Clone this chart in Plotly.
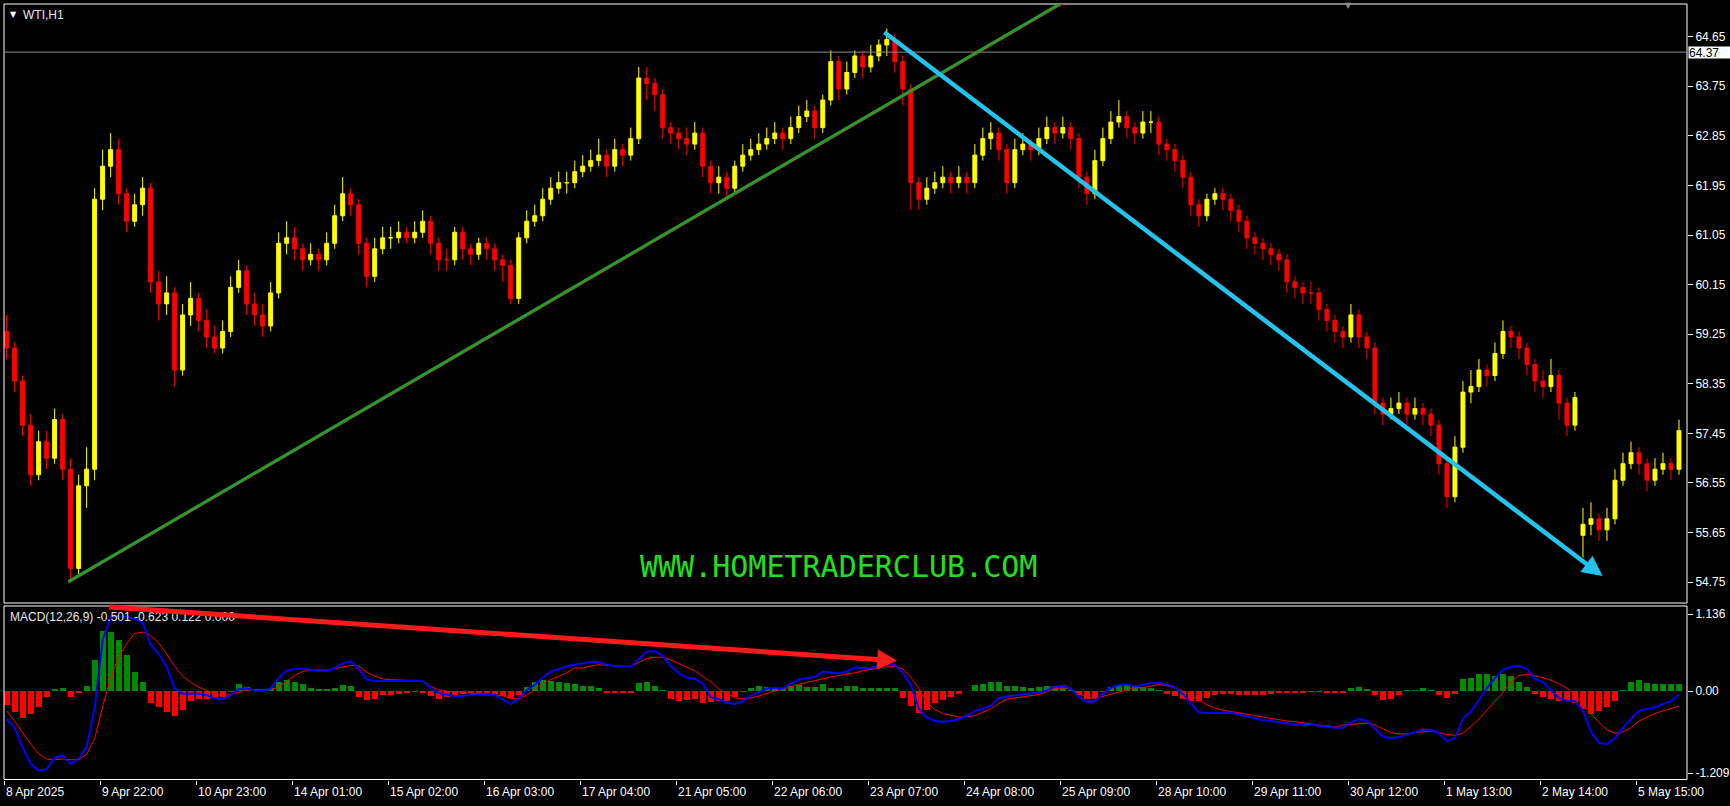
import plotly.graph_objects as go

W, H = 1730, 806

# 2-hour candles (WTI, 8 Apr - 5 May 2025)
opens = [59.3, 59.0, 58.4, 57.6, 56.7, 57.3, 57.0, 57.7, 56.8, 55.0,
         56.5, 56.8, 61.7, 62.3, 62.6, 61.8, 61.3, 61.6, 61.9, 60.2,
         59.8, 60.0, 58.6, 59.6, 59.9, 59.5, 59.2, 59.0, 59.3, 60.1,
         60.4, 59.8, 59.6, 59.4, 60.0, 60.9, 61.0, 60.8, 60.6, 60.7,
         60.6, 60.9, 61.4, 61.8, 61.6, 60.9, 60.3, 60.8, 61.0, 61.0,
         61.1, 61.0, 61.1, 61.3, 60.9, 60.6, 60.6, 61.1, 60.8, 60.7,
         60.9, 60.8, 60.6, 60.5, 59.9, 61.0, 61.3, 61.4, 61.7, 61.9,
         62.0, 62.0, 62.2, 62.3, 62.4, 62.5, 62.3, 62.6, 62.5, 62.8,
         63.9, 63.8, 63.6, 63.0, 62.9, 62.8, 62.7, 62.9, 62.3, 62.0,
         62.1, 61.9, 62.3, 62.5, 62.6, 62.7, 62.8, 62.9, 62.8, 63.0,
         63.2, 63.3, 63.0, 63.5, 64.2, 63.7, 64.0, 64.3, 64.1, 64.3,
         64.5, 64.6, 64.2, 63.7, 62.0, 61.7, 61.9, 62.0, 62.1, 62.0,
         62.1, 62.0, 62.5, 62.8, 62.9, 62.6, 62.0, 62.6, 62.7, 62.6,
         62.8, 63.0, 62.9, 63.0, 62.8, 62.1, 61.8, 62.4, 62.8, 63.1,
         63.2, 63.0, 62.9, 63.1, 63.1, 62.7, 62.6, 62.4, 62.1, 61.6,
         61.4, 61.7, 61.8, 61.7, 61.5, 61.3, 61.0, 60.9, 60.8, 60.7,
         60.6, 60.2, 60.1, 60.0, 60.0, 59.7, 59.5, 59.3, 59.2, 59.6,
         59.2, 59.0, 58.0, 57.8, 57.9, 58.0, 57.8, 57.9, 57.8, 57.6,
         56.9, 56.3, 57.2, 58.2, 58.3, 58.6, 58.5, 58.9, 59.3, 59.2,
         59.0, 58.7, 58.4, 58.3, 58.5, 58.0, 57.6, 55.6, 55.8, 55.9,
         55.7, 55.9, 56.6, 56.9, 57.1, 56.9, 56.6, 56.8, 56.9, 56.8]
highs = [59.6, 59.1, 58.5, 57.8, 57.5, 57.5, 57.9, 57.8, 57.0, 56.7,
         57.2, 61.9, 62.6, 62.9, 62.8, 61.9, 61.8, 62.1, 62.0, 60.4,
         60.3, 60.1, 59.8, 60.2, 60.0, 59.7, 59.4, 59.5, 60.3, 60.6,
         60.5, 60.0, 59.8, 60.2, 61.1, 61.3, 61.2, 60.9, 60.9, 60.8,
         61.1, 61.6, 62.1, 61.9, 61.7, 61.0, 61.0, 61.2, 61.2, 61.3,
         61.2, 61.3, 61.5, 61.4, 61.0, 60.8, 61.2, 61.2, 60.9, 61.0,
         61.0, 60.9, 60.7, 60.6, 61.1, 61.5, 61.6, 61.9, 62.1, 62.2,
         62.2, 62.4, 62.5, 62.6, 62.8, 62.6, 62.8, 62.7, 63.0, 64.1,
         64.1, 63.9, 63.7, 63.1, 63.0, 63.0, 63.1, 63.0, 62.4, 62.3,
         62.2, 62.4, 62.7, 62.8, 62.9, 63.0, 63.1, 63.0, 63.2, 63.4,
         63.5, 63.4, 63.6, 64.4, 64.3, 64.2, 64.4, 64.4, 64.5, 64.6,
         64.8, 64.7, 64.3, 63.8, 62.1, 62.1, 62.2, 62.3, 62.2, 62.3,
         62.2, 62.7, 63.0, 63.1, 63.0, 62.7, 62.8, 62.9, 62.8, 63.0,
         63.2, 63.1, 63.2, 63.1, 62.9, 62.2, 62.6, 63.0, 63.3, 63.5,
         63.3, 63.1, 63.3, 63.3, 63.2, 62.8, 62.7, 62.5, 62.2, 61.7,
         61.8, 61.9, 61.9, 61.8, 61.6, 61.4, 61.1, 61.0, 60.9, 60.8,
         60.7, 60.3, 60.2, 60.2, 60.1, 59.8, 59.6, 59.4, 59.8, 59.7,
         59.3, 59.1, 58.1, 58.1, 58.2, 58.1, 58.1, 58.0, 57.9, 57.7,
         57.0, 57.4, 58.4, 58.6, 58.8, 58.7, 59.1, 59.5, 59.4, 59.3,
         59.1, 58.8, 58.6, 58.8, 58.6, 58.1, 58.2, 56.1, 56.2, 56.0,
         56.1, 56.8, 57.1, 57.3, 57.2, 57.0, 57.0, 57.1, 57.0, 57.7]
lows = [58.8, 58.2, 57.4, 56.5, 56.6, 56.8, 56.9, 56.6, 54.8, 54.9,
        56.1, 56.6, 61.5, 62.1, 61.6, 61.1, 61.2, 61.4, 60.0, 59.5,
        59.6, 58.3, 58.5, 59.4, 59.3, 59.0, 58.9, 58.9, 59.2, 60.0,
        59.6, 59.4, 59.2, 59.3, 59.9, 60.7, 60.6, 60.4, 60.5, 60.4,
        60.5, 60.8, 61.3, 61.4, 60.7, 60.1, 60.2, 60.7, 60.8, 60.9,
        60.9, 60.9, 61.0, 60.7, 60.4, 60.4, 60.5, 60.6, 60.5, 60.6,
        60.6, 60.4, 60.2, 59.8, 59.8, 60.9, 61.2, 61.3, 61.6, 61.8,
        61.8, 61.9, 62.1, 62.2, 62.3, 62.1, 62.2, 62.3, 62.4, 62.7,
        63.5, 63.3, 62.8, 62.7, 62.6, 62.5, 62.6, 62.1, 61.8, 61.8,
        61.7, 61.8, 62.2, 62.4, 62.5, 62.6, 62.7, 62.6, 62.7, 62.9,
        63.1, 62.8, 62.9, 63.4, 63.5, 63.6, 63.9, 63.9, 64.0, 64.2,
        64.3, 64.0, 63.4, 61.5, 61.5, 61.6, 61.8, 61.9, 61.8, 61.9,
        61.8, 61.9, 62.4, 62.6, 62.4, 61.8, 61.9, 62.5, 62.4, 62.5,
        62.7, 62.7, 62.8, 62.6, 61.9, 61.6, 61.7, 62.3, 62.7, 63.0,
        62.8, 62.7, 62.8, 62.9, 62.5, 62.4, 62.2, 61.9, 61.4, 61.2,
        61.3, 61.6, 61.5, 61.3, 61.1, 60.8, 60.7, 60.6, 60.5, 60.4,
        60.0, 59.9, 59.8, 59.8, 59.5, 59.3, 59.1, 59.0, 59.1, 59.0,
        58.8, 57.8, 57.6, 57.7, 57.8, 57.6, 57.7, 57.6, 57.4, 56.7,
        56.1, 56.2, 57.1, 58.0, 58.2, 58.3, 58.4, 58.8, 59.0, 58.8,
        58.5, 58.2, 58.1, 58.2, 57.7, 57.4, 57.5, 55.2, 55.6, 55.5,
        55.5, 55.8, 56.5, 56.8, 56.7, 56.4, 56.5, 56.7, 56.6, 56.7]
closes = [59.0, 58.4, 57.6, 56.7, 57.3, 57.0, 57.7, 56.8, 55.0, 56.5,
          56.8, 61.7, 62.3, 62.6, 61.8, 61.3, 61.6, 61.9, 60.2, 59.8,
          60.0, 58.6, 59.6, 59.9, 59.5, 59.2, 59.0, 59.3, 60.1, 60.4,
          59.8, 59.6, 59.4, 60.0, 60.9, 61.0, 60.8, 60.6, 60.7, 60.6,
          60.9, 61.4, 61.8, 61.6, 60.9, 60.3, 60.8, 61.0, 61.0, 61.1,
          61.0, 61.1, 61.3, 60.9, 60.6, 60.6, 61.1, 60.8, 60.7, 60.9,
          60.8, 60.6, 60.5, 59.9, 61.0, 61.3, 61.4, 61.7, 61.9, 62.0,
          62.0, 62.2, 62.3, 62.4, 62.5, 62.3, 62.6, 62.5, 62.8, 63.9,
          63.8, 63.6, 63.0, 62.9, 62.8, 62.7, 62.9, 62.3, 62.0, 62.1,
          61.9, 62.3, 62.5, 62.6, 62.7, 62.8, 62.9, 62.8, 63.0, 63.2,
          63.3, 63.0, 63.5, 64.2, 63.7, 64.0, 64.3, 64.1, 64.3, 64.5,
          64.6, 64.2, 63.7, 62.0, 61.7, 61.9, 62.0, 62.1, 62.0, 62.1,
          62.0, 62.5, 62.8, 62.9, 62.6, 62.0, 62.6, 62.7, 62.6, 62.8,
          63.0, 62.9, 63.0, 62.8, 62.1, 61.8, 62.4, 62.8, 63.1, 63.2,
          63.0, 62.9, 63.1, 63.1, 62.7, 62.6, 62.4, 62.1, 61.6, 61.4,
          61.7, 61.8, 61.7, 61.5, 61.3, 61.0, 60.9, 60.8, 60.7, 60.6,
          60.2, 60.1, 60.0, 60.0, 59.7, 59.5, 59.3, 59.2, 59.6, 59.2,
          59.0, 58.0, 57.8, 57.9, 58.0, 57.8, 57.9, 57.8, 57.6, 56.9,
          56.3, 57.2, 58.2, 58.3, 58.6, 58.5, 58.9, 59.3, 59.2, 59.0,
          58.7, 58.4, 58.3, 58.5, 58.0, 57.6, 58.1, 55.8, 55.9, 55.7,
          55.9, 56.6, 56.9, 57.1, 56.9, 56.6, 56.8, 56.9, 56.8, 57.5]

# MACD(12,26,9): blue main line, red signal line, green/red histogram
macd_main = [-0.41, -0.54, -0.83, -1.07, -1.17, -1.15, -0.98, -0.95, -1.07, -1.00,
             -0.82, -0.26, 0.75, 1.09, 1.10, 1.10, 1.06, 1.01, 0.68, 0.55,
             0.36, 0.04, -0.04, -0.04, -0.04, -0.06, -0.11, -0.12, -0.06, 0.03,
             0.04, 0.01, 0.00, 0.04, 0.19, 0.30, 0.33, 0.33, 0.31, 0.30,
             0.30, 0.34, 0.41, 0.44, 0.33, 0.17, 0.15, 0.15, 0.15, 0.15,
             0.15, 0.15, 0.15, 0.05, -0.03, -0.05, -0.07, -0.07, -0.05, -0.05,
             -0.05, -0.06, -0.12, -0.19, -0.11, 0.02, 0.09, 0.20, 0.29, 0.32,
             0.37, 0.39, 0.42, 0.43, 0.43, 0.39, 0.37, 0.36, 0.36, 0.47,
             0.58, 0.59, 0.52, 0.37, 0.26, 0.20, 0.18, 0.11, -0.09, -0.12,
             -0.17, -0.19, -0.15, -0.07, -0.01, 0.04, 0.05, 0.04, 0.11, 0.17,
             0.19, 0.21, 0.29, 0.28, 0.26, 0.29, 0.35, 0.34, 0.34, 0.37,
             0.41, 0.38, 0.27, 0.09, -0.26, -0.39, -0.44, -0.45, -0.44, -0.41,
             -0.37, -0.29, -0.26, -0.21, -0.10, -0.08, -0.06, -0.05, -0.03, -0.02,
             0.01, 0.07, 0.08, 0.04, -0.09, -0.16, -0.15, -0.04, 0.05, 0.09,
             0.10, 0.07, 0.09, 0.12, 0.12, 0.10, 0.06, -0.04, -0.18, -0.31,
             -0.32, -0.32, -0.31, -0.32, -0.34, -0.37, -0.40, -0.43, -0.44, -0.46,
             -0.48, -0.49, -0.49, -0.49, -0.51, -0.53, -0.54, -0.54, -0.46, -0.41,
             -0.44, -0.55, -0.67, -0.69, -0.68, -0.64, -0.61, -0.57, -0.57, -0.62,
             -0.74, -0.69, -0.40, -0.30, -0.13, 0.05, 0.19, 0.31, 0.36, 0.37,
             0.33, 0.18, 0.13, 0.02, -0.10, -0.15, -0.15, -0.29, -0.60, -0.76,
             -0.78, -0.69, -0.54, -0.41, -0.29, -0.26, -0.24, -0.19, -0.15, -0.05]
macd_signal = [-0.29, -0.44, -0.61, -0.78, -0.92, -1.00, -1.01, -1.00, -1.01, -1.01,
               -0.93, -0.70, -0.23, 0.20, 0.50, 0.70, 0.85, 0.87, 0.82, 0.71,
               0.55, 0.37, 0.22, 0.13, 0.06, 0.01, -0.04, -0.07, -0.05, -0.02,
               0.02, 0.02, 0.01, 0.02, 0.06, 0.14, 0.23, 0.29, 0.31, 0.31,
               0.31, 0.33, 0.35, 0.38, 0.37, 0.28, 0.22, 0.18, 0.17, 0.16,
               0.16, 0.16, 0.15, 0.07, 0.02, 0.00, -0.01, -0.03, -0.04, -0.04,
               -0.04, -0.05, -0.07, -0.11, -0.11, -0.06, 0.02, 0.11, 0.17, 0.22,
               0.27, 0.34, 0.34, 0.37, 0.39, 0.38, 0.37, 0.36, 0.36, 0.42,
               0.48, 0.50, 0.50, 0.46, 0.41, 0.36, 0.30, 0.22, 0.14, 0.03,
               -0.04, -0.10, -0.11, -0.10, -0.07, -0.03, 0.00, 0.03, 0.07, 0.10,
               0.13, 0.15, 0.18, 0.21, 0.23, 0.24, 0.27, 0.30, 0.32, 0.34,
               0.36, 0.36, 0.33, 0.20, 0.04, -0.17, -0.27, -0.33, -0.36, -0.38,
               -0.38, -0.36, -0.31, -0.26, -0.18, -0.12, -0.10, -0.08, -0.07, -0.05,
               -0.01, 0.04, 0.05, 0.03, -0.04, -0.09, -0.11, -0.08, -0.04, -0.01,
               0.02, 0.05, 0.05, 0.07, 0.10, 0.08, 0.05, 0.00, -0.06, -0.13,
               -0.20, -0.25, -0.28, -0.30, -0.32, -0.34, -0.37, -0.39, -0.41, -0.42,
               -0.44, -0.45, -0.47, -0.49, -0.50, -0.51, -0.53, -0.50, -0.49, -0.47,
               -0.47, -0.50, -0.55, -0.61, -0.63, -0.63, -0.61, -0.60, -0.59, -0.61,
               -0.64, -0.65, -0.62, -0.52, -0.41, -0.28, -0.15, -0.02, 0.14, 0.23,
               0.25, 0.23, 0.20, 0.16, 0.11, 0.04, -0.04, -0.20, -0.33, -0.46,
               -0.57, -0.62, -0.60, -0.54, -0.44, -0.38, -0.33, -0.29, -0.26, -0.22]
macd_hist = [-0.21, -0.31, -0.39, -0.34, -0.23, -0.09, 0.03, 0.04, -0.09, -0.02,
             0.07, 0.46, 0.89, 0.87, 0.75, 0.53, 0.28, 0.14, -0.17, -0.23,
             -0.31, -0.37, -0.28, -0.15, -0.11, -0.11, -0.10, -0.09, -0.01, 0.10,
             0.06, 0.02, 0.01, 0.04, 0.14, 0.17, 0.14, 0.10, 0.05, 0.03,
             0.03, 0.05, 0.09, 0.08, -0.08, -0.13, -0.11, -0.06, -0.05, -0.04,
             -0.02, -0.01, -0.03, -0.07, -0.11, -0.09, -0.06, -0.04, -0.02, -0.02,
             -0.03, -0.04, -0.07, -0.10, -0.05, 0.06, 0.13, 0.16, 0.15, 0.13,
             0.12, 0.10, 0.07, 0.07, 0.05, -0.02, -0.02, -0.02, -0.02, 0.12,
             0.14, 0.08, 0.01, -0.11, -0.14, -0.13, -0.12, -0.17, -0.16, -0.15,
             -0.15, -0.09, -0.01, 0.05, 0.08, 0.06, 0.05, 0.05, 0.07, 0.09,
             0.06, 0.06, 0.10, 0.05, 0.04, 0.07, 0.07, 0.04, 0.04, 0.05,
             0.05, 0.04, -0.10, -0.22, -0.32, -0.28, -0.18, -0.13, -0.09, -0.04,
             0.00, 0.09, 0.11, 0.14, 0.14, 0.07, 0.07, 0.06, 0.05, 0.06,
             0.07, 0.07, 0.05, 0.02, -0.06, -0.12, -0.10, -0.01, 0.06, 0.09,
             0.09, 0.07, 0.06, 0.05, 0.01, -0.04, -0.07, -0.11, -0.15, -0.14,
             -0.10, -0.06, -0.04, -0.04, -0.05, -0.05, -0.06, -0.05, -0.04, -0.03,
             -0.03, -0.03, -0.02, -0.01, -0.01, -0.02, -0.03, -0.03, 0.04, 0.06,
             0.03, -0.06, -0.13, -0.11, -0.05, 0.01, 0.02, 0.04, 0.01, -0.06,
             -0.10, -0.04, 0.18, 0.20, 0.26, 0.26, 0.23, 0.25, 0.22, 0.14,
             0.06, -0.04, -0.08, -0.11, -0.14, -0.14, -0.17, -0.26, -0.33, -0.29,
             -0.23, -0.15, 0.02, 0.14, 0.17, 0.12, 0.11, 0.11, 0.10, 0.11]

price_ticks = [64.65, 63.75, 62.85, 61.95, 61.05, 60.15, 59.25, 58.35, 57.45, 56.55, 55.65, 54.75]
macd_ticks = [1.136, 0.0, -1.209]
macd_tick_text = ["1.136", "0.00", "-1.209"]
time_labels = ["8 Apr 2025", "9 Apr 22:00", "10 Apr 23:00", "14 Apr 01:00", "15 Apr 02:00",
               "16 Apr 03:00", "17 Apr 04:00", "21 Apr 05:00", "22 Apr 06:00", "23 Apr 07:00",
               "24 Apr 08:00", "25 Apr 09:00", "28 Apr 10:00", "29 Apr 11:00", "30 Apr 12:00",
               "1 May 13:00", "2 May 14:00", "5 May 15:00"]
bars_per_label = 24
last_price = 64.37

# x is counted in H1 bars; each 2-hour candle sits in the middle of its two bars
xs = [2 * j + 0.5 for j in range(len(closes))]
label_x = [bars_per_label * k for k in range(len(time_labels))]

FONT = "Liberation Sans"
X_DOM = [4 / W, 1687 / W]
X_RANGE = [-0.15, 420.5]

fig = go.Figure()
fig.add_trace(go.Candlestick(
    x=xs, open=opens, high=highs, low=lows, close=closes,
    increasing=dict(line=dict(color="#ffff00", width=1), fillcolor="#ffff00"),
    decreasing=dict(line=dict(color="#ff0000", width=1), fillcolor="#ff0000"),
    whiskerwidth=0, hoverinfo="skip", showlegend=False, xaxis="x", yaxis="y"))

fig.add_trace(go.Bar(
    x=xs, y=macd_hist, width=1.5,
    marker=dict(color=["#008a00" if v >= 0 else "#ff0000" for v in macd_hist], line=dict(width=0)),
    hoverinfo="skip", showlegend=False, xaxis="x2", yaxis="y2"))
fig.add_trace(go.Scatter(x=xs, y=macd_signal, mode="lines", line=dict(color="#ff0000", width=1),
                         hoverinfo="skip", showlegend=False, xaxis="x2", yaxis="y2"))
fig.add_trace(go.Scatter(x=xs, y=macd_main, mode="lines", line=dict(color="#0000ff", width=2),
                         hoverinfo="skip", showlegend=False, xaxis="x2", yaxis="y2"))

axis_font = dict(family=FONT, size=12, color="white")

fig.update_layout(
    width=W, height=H, margin=dict(l=0, r=0, t=0, b=0),
    paper_bgcolor="black", plot_bgcolor="black", showlegend=False, hovermode=False,
    bargap=0,
    xaxis=dict(domain=X_DOM, range=X_RANGE, anchor="y", showgrid=False, zeroline=False,
               showticklabels=False, ticks="", rangeslider=dict(visible=False), fixedrange=True),
    yaxis=dict(domain=[1 - 603 / H, 1 - 4 / H], range=[54.372, 65.243], anchor="x", side="right",
               tickvals=price_ticks, ticktext=[f"{v:.2f}" for v in price_ticks],
               ticks="outside", ticklen=5, tickcolor="white", tickfont=axis_font,
               showgrid=False, zeroline=False, fixedrange=True),
    xaxis2=dict(domain=X_DOM, range=X_RANGE, anchor="y2", showgrid=False, zeroline=False,
                tickvals=label_x, showticklabels=False, ticks="outside", ticklen=4,
                tickcolor="white", fixedrange=True),
    yaxis2=dict(domain=[1 - 779.5 / H, 1 - 606 / H], range=[-1.301, 1.254], anchor="x2", side="right",
                tickvals=macd_ticks, ticktext=macd_tick_text,
                ticks="outside", ticklen=5, tickcolor="white", tickfont=axis_font,
                showgrid=False, zeroline=False, fixedrange=True),
)

# panel frames
for top, bottom in [(4, 603), (606, 779.5)]:
    fig.add_shape(type="rect", xref="paper", yref="paper",
                  x0=4 / W, x1=1687 / W, y0=1 - bottom / H, y1=1 - top / H,
                  line=dict(color="white", width=1))

# current price line
fig.add_shape(type="line", xref="x", yref="y", x0=X_RANGE[0], x1=X_RANGE[1],
              y0=last_price, y1=last_price, line=dict(color="#8c8c8c", width=1))

# hand-drawn trend line (green, with a thin red one under it)
fig.add_shape(type="line", xref="x", yref="y", x0=15.95, y0=54.73, x1=264.5, y1=65.243,
              line=dict(color="#c81e1e", width=1))
fig.add_shape(type="line", xref="x", yref="y", x0=15.95, y0=54.76, x1=263.7, y1=65.243,
              line=dict(color="#2a9a2a", width=3))

annotations = [
    dict(x=8 / W, y=1 - 14 / H, xref="paper", yref="paper", text="▼", showarrow=False,
         xanchor="left", yanchor="middle", font=dict(family="DejaVu Sans", size=8, color="white")),
    dict(x=21 / W, y=1 - 15 / H, xref="paper", yref="paper", text="WTI,H1", showarrow=False,
         xanchor="left", yanchor="middle", font=dict(family=FONT, size=12, color="#e8e8e8")),
    dict(x=1348 / W, y=1 - 5 / H, xref="paper", yref="paper", text="▼", showarrow=False,
         xanchor="center", yanchor="middle", font=dict(family="DejaVu Sans", size=8, color="#8c8c8c")),
    dict(x=8 / W, y=1 - 617 / H, xref="paper", yref="paper",
         text="MACD(12,26,9) -0.501 -0.623 0.122 0.000", showarrow=False,
         xanchor="left", yanchor="middle", font=dict(family=FONT, size=12, color="#e8e8e8")),
    dict(x=838 / W, y=1 - 566 / H, xref="paper", yref="paper", text="WWW.HOMETRADERCLUB.COM",
         showarrow=False, xanchor="center", yanchor="middle",
         font=dict(family="DejaVu Sans Mono", size=30, color="#1fe01f")),
    dict(x=1688 / W, y=last_price, xref="paper", yref="y", text=f"{last_price:.2f}", showarrow=False,
         xanchor="left", yanchor="middle", bgcolor="white", borderpad=0, width=41, height=11,
         align="left", font=dict(family=FONT, size=12, color="black")),
    # cyan down arrow on the price chart
    dict(x=399.4, y=54.86, xref="x", yref="y", ax=219.5, ay=64.75, axref="x", ayref="y",
         text="", showarrow=True, arrowhead=2, arrowsize=0.9, arrowwidth=4.5, arrowcolor="#22c4ee"),
    # red arrow on the MACD panel
    dict(x=223.1, y=0.446, xref="x2", yref="y2", ax=25.7, ay=1.24, axref="x2", ayref="y2",
         text="", showarrow=True, arrowhead=2, arrowsize=0.8, arrowwidth=5, arrowcolor="#ff1a1a"),
]
for lx, lt in zip(label_x, time_labels):
    annotations.append(dict(x=lx, y=1 - 792 / H, xref="x2", yref="paper", text=lt, showarrow=False,
                            xanchor="left", yanchor="middle", xshift=-1,
                            font=dict(family=FONT, size=12, color="white")))
fig.update_layout(annotations=annotations)

fig.write_html("out.html", config={"displayModeBar": False, "staticPlot": True},
               post_script="document.body.style.margin='0';document.body.style.overflow='hidden';")
